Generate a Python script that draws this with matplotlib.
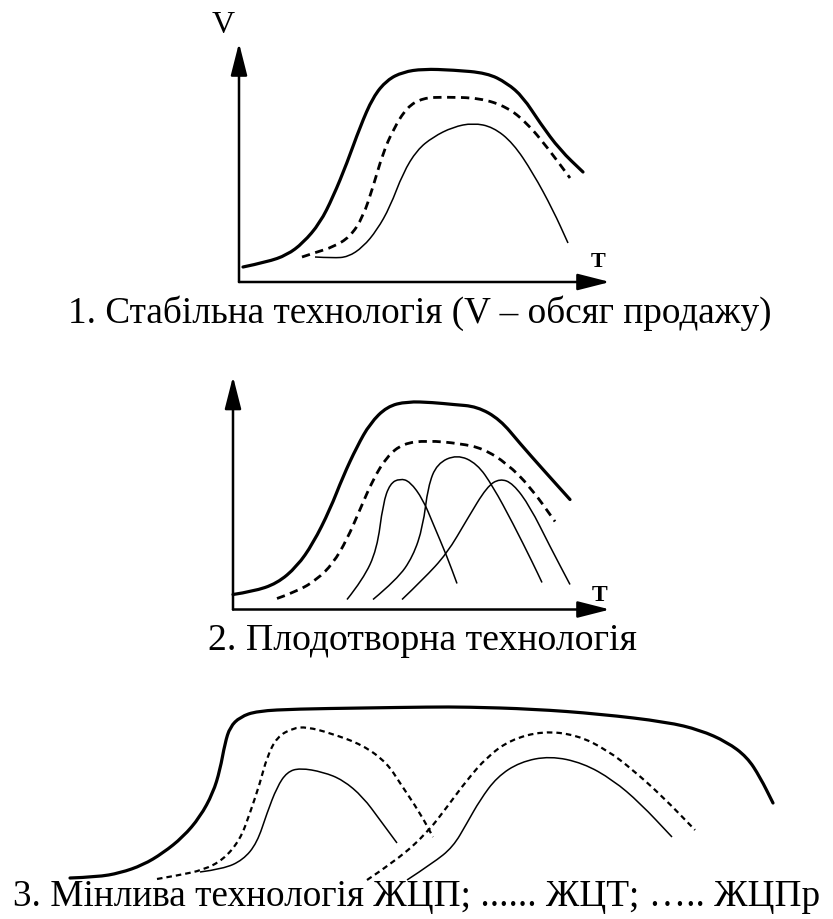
import matplotlib
matplotlib.use("Agg")
import matplotlib.pyplot as plt
from matplotlib.path import Path
from matplotlib.patches import PathPatch

W, H = 833, 919

# ---- panel 1: stable technology (T, V in px units from the axes origin)
p1_outer_t = [4, 28, 48, 64, 81, 94, 108, 121, 134, 148, 164, 184, 214, 248, 268, 284, 301, 321, 344]
p1_outer_v = [15, 20, 27, 39, 59, 85, 119, 155, 185, 202, 210, 213, 212, 209, 199, 185, 159, 132, 110]
p1_dash_t = [63, 78, 94, 111, 124, 134, 144, 154, 168, 184, 204, 241, 268, 288, 308, 331]
p1_dash_v = [25, 30, 35, 45, 65, 95, 129, 152, 175, 184, 185, 184, 175, 159, 135, 104]
p1_inner_t = [76, 94, 109, 124, 138, 151, 164, 178, 194, 214, 234, 254, 274, 294, 314, 329]
p1_inner_v = [25, 24, 25, 35, 52, 75, 109, 132, 145, 155, 159, 155, 139, 109, 72, 39]

# ---- panel 2: fruitful technology
p2_outer_t = [0, 20, 44, 64, 80, 97, 110, 124, 137, 154, 174, 200, 220, 244, 267, 287, 310, 337]
p2_outer_v = [15, 18, 26, 43, 66, 100, 133, 163, 186, 203, 208, 207, 205, 203, 190, 166, 140, 110]
p2_dash_t = [44, 64, 84, 100, 114, 127, 140, 154, 170, 194, 227, 250, 274, 297, 322]
p2_dash_v = [11, 18, 30, 46, 70, 100, 130, 153, 166, 169, 166, 161, 146, 123, 88]
p2_a_t = [114, 130, 144, 150, 157, 167, 177, 190, 200, 214, 224]
p2_a_v = [10, 30, 60, 106, 126, 131, 128, 110, 86, 53, 26]
p2_b_t = [140, 164, 180, 190, 195, 204, 224, 244, 260, 280, 300, 309]
p2_b_v = [10, 30, 53, 83, 123, 146, 155, 146, 123, 86, 46, 27]
p2_c_t = [169, 190, 214, 234, 254, 267, 280, 297, 317, 337]
p2_c_v = [10, 30, 56, 90, 123, 131, 126, 103, 63, 25]

# ---- panel 3: changing technology
p3_outer_t = [30, 57, 80, 103, 123, 143, 160, 173, 180, 185, 190, 200, 217, 257, 323, 390,
              427, 493, 560, 627, 660, 687, 707, 720, 733]
p3_outer_v = [12, 13, 17, 25, 37, 53, 73, 97, 120, 147, 163, 173, 179, 181, 182, 183,
              183, 181, 176, 168, 160, 148, 133, 113, 87]
p3_dash1_t = [117, 140, 163, 183, 200, 210, 220, 227, 237, 253, 267, 290, 323, 347, 360, 380, 393]
p3_dash1_v = [11, 15, 20, 30, 50, 77, 107, 133, 153, 162, 163, 157, 145, 127, 107, 77, 53]
p3_inner1_t = [160, 183, 203, 217, 227, 237, 247, 260, 283, 303, 323, 340, 357]
p3_inner1_v = [18, 21, 30, 47, 77, 103, 118, 122, 118, 110, 93, 70, 47]
p3_dash2_t = [327, 357, 387, 407, 427, 447, 470, 503, 537, 567, 593, 623, 655]
p3_dash2_v = [10, 30, 57, 83, 110, 133, 150, 159, 155, 140, 120, 93, 60]
p3_inner2_t = [367, 393, 413, 427, 440, 457, 480, 510, 543, 573, 600, 632]
p3_inner2_v = [10, 27, 43, 67, 90, 113, 128, 134, 127, 110, 87, 53]

captions = ["1. Стабільна технологія (V – обсяг продажу)",
            "2. Плодотворна технологія",
            "3. Мінлива технологія ЖЦП; ...... ЖЦТ; ….. ЖЦПр"]

SERIF = ["Liberation Serif", "DejaVu Serif"]
thick = dict(lw=2.3, capstyle="round")
dashed = dict(lw=2.0, ls=(0, (3, 2)))
dotted = dict(lw=1.6, ls=(0, (2.5, 1.8)))
thin = dict(lw=1.1)

fig = plt.figure(figsize=(W / 100, H / 100), dpi=100)


def panel(ox, oy, left, right, bottom, top):
    # axes in pixel units, data origin at pixel (ox, oy) of the image
    ax = fig.add_axes([(ox - left) / W, 1 - (oy + bottom) / H,
                       (left + right) / W, (top + bottom) / H])
    ax.set_xlim(-left, right)
    ax.set_ylim(-bottom, top)
    ax.axis("off")
    return ax


def curve(ax, t, v, **kw):
    # smooth freehand-like curve: quadratic beziers through the midpoints
    pts = list(zip(t, v))
    verts = [pts[0]]
    codes = [Path.MOVETO]
    for i in range(1, len(pts) - 1):
        mid = ((pts[i][0] + pts[i + 1][0]) / 2, (pts[i][1] + pts[i + 1][1]) / 2)
        verts += [pts[i], mid]
        codes += [Path.CURVE3, Path.CURVE3]
    verts.append(pts[-1])
    codes.append(Path.LINETO)
    ax.add_patch(PathPatch(Path(verts, codes), fill=False, edgecolor="black", **kw))


def axes_arrows(ax, xlen, ylen):
    style = dict(arrowstyle="-|>,head_length=1.1,head_width=0.28",
                 mutation_scale=18, color="black", lw=1.8, shrinkA=0, shrinkB=0)
    ax.annotate("", xy=(xlen, 0), xytext=(0, 0), arrowprops=style)
    ax.annotate("", xy=(0, ylen), xytext=(0, 0), arrowprops=style)


ax1 = panel(239, 282, 40, 400, 10, 285)
axes_arrows(ax1, 371, 239)
curve(ax1, p1_outer_t, p1_outer_v, **thick)
curve(ax1, p1_dash_t, p1_dash_v, **dashed)
curve(ax1, p1_inner_t, p1_inner_v, **thin)
ax1.text(-16, 257, "V", family=SERIF, fontsize=23, ha="center", va="center")
ax1.text(359, 20, "T", family=SERIF, fontsize=16, weight="bold", ha="center", va="center")

ax2 = panel(233, 609.5, 40, 400, 10, 240)
axes_arrows(ax2, 377, 233)
curve(ax2, p2_outer_t, p2_outer_v, **thick)
curve(ax2, p2_dash_t, p2_dash_v, **dashed)
for t, v in [(p2_a_t, p2_a_v), (p2_b_t, p2_b_v), (p2_c_t, p2_c_v)]:
    curve(ax2, t, v, **thin)
ax2.text(367, 14, "T", family=SERIF, fontsize=17, weight="bold", ha="center", va="center")

ax3 = panel(40, 890, 40, 790, 10, 200)
curve(ax3, p3_outer_t, p3_outer_v, **thick)
curve(ax3, p3_dash1_t, p3_dash1_v, **dotted)
curve(ax3, p3_dash2_t, p3_dash2_v, **dotted)
curve(ax3, p3_inner1_t, p3_inner1_v, **thin)
curve(ax3, p3_inner2_t, p3_inner2_v, **thin)

fig.text(420 / W, 1 - 323 / H, captions[0], family=SERIF, fontsize=26.8, ha="center", va="baseline")
fig.text(422 / W, 1 - 650 / H, captions[1], family=SERIF, fontsize=27.2, ha="center", va="baseline")
fig.text(417 / W, 1 - 906 / H, captions[2], family=SERIF, fontsize=26.8, ha="center", va="baseline")

fig.savefig("out.png", dpi=100, facecolor="white")
